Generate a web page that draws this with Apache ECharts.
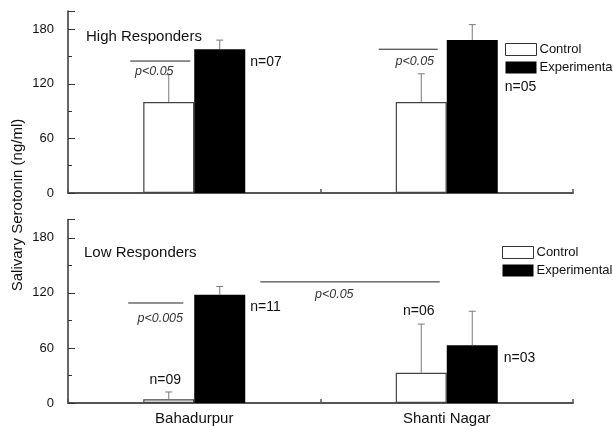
<!DOCTYPE html>
<html>
<head>
<meta charset="utf-8">
<script src="https://cdn.jsdelivr.net/npm/echarts@6/dist/echarts.min.js"></script>
<style>html,body{margin:0;padding:0;background:#fff}#c{width:613px;height:426px}</style>
</head>
<body>
<div id="c"></div>
<script>
// ---- data ----
const categories = ['Bahadurpur', 'Shanti Nagar'];
const highControl = [100, 100];
const highControlUpper = [130, 131];
const highExp = [158, 168];
const highExpUpper = [168, 185];
const lowControl = [4, 33];
const lowControlUpper = [12, 86];
const lowExp = [118, 63];
const lowExpUpper = [127, 100];
const yTickLabels = [0, 60, 120, 180];
const highN = ['n=07', 'n=05'];
const lowControlN = ['n=09', 'n=06'];
const lowExpN = ['n=11', 'n=03'];

const FONT = '"Liberation Sans", Arial, sans-serif';
const BW = 51;
const HALF = BW / 2;
const errColor = '#7a7a7a';
const axisColor = '#333';
const Y_MAX = 200;

function errSeries(gi, values, uppers, side) {
  return {
    type: 'custom', xAxisIndex: gi, yAxisIndex: gi, z: 5,
    data: values.map((v, i) => [i, uppers[i], v]),
    encode: { x: 0, y: 1 },
    silent: true,
    renderItem: function (params, api) {
      const i = api.value(0);
      const top = api.coord([i, api.value(1)]);
      const bot = api.coord([i, api.value(2)]);
      const x = top[0] + side * HALF;
      return {
        type: 'group', children: [
          { type: 'line', shape: { x1: x, y1: bot[1], x2: x, y2: top[1] }, style: { stroke: errColor, lineWidth: 1 } },
          { type: 'line', shape: { x1: x - 3.5, y1: top[1], x2: x + 3.5, y2: top[1] }, style: { stroke: errColor, lineWidth: 1 } }
        ]
      };
    }
  };
}

const annotTop = [
  { kind: 'line', c1: 0, d1: -64, c2: 0, d2: -4, y: 145 },
  { kind: 'text', c: 0, d: -40, y: 133, text: 'p<0.05', italic: true, align: 'center' },
  { kind: 'line', c1: 1, d1: -68, c2: 1, d2: -9, y: 158 },
  { kind: 'text', c: 1, d: -32, y: 144, text: 'p<0.05', italic: true, align: 'center' },
  { kind: 'text', c: 0, d: 56, y: 144, text: highN[0], align: 'left' },
  { kind: 'text', c: 1, d: 58, y: 116, text: highN[1], align: 'left' }
];
const annotLow = [
  { kind: 'line', c1: 0, d1: -66, c2: 0, d2: -11, y: 109 },
  { kind: 'text', c: 0, d: -34, y: 92, text: 'p<0.005', italic: true, align: 'center' },
  { kind: 'line', c1: 0, d1: 66, c2: 1, d2: -7, y: 132 },
  { kind: 'text', c: 0, d: 140, y: 118, text: 'p<0.05', italic: true, align: 'center' },
  { kind: 'text', c: 0, d: -29, y: 25, text: lowControlN[0], align: 'center' },
  { kind: 'text', c: 0, d: 56, y: 105, text: lowExpN[0], align: 'left' },
  { kind: 'text', c: 1, d: -28, y: 100, text: lowControlN[1], align: 'center' },
  { kind: 'text', c: 1, d: 57, y: 49, text: lowExpN[1], align: 'left' }
];

function annotSeries(gi, list) {
  return {
    type: 'custom', xAxisIndex: gi, yAxisIndex: gi, z: 6, silent: true,
    data: list.map((a, i) => [i, 0]),
    encode: { x: 0, y: 1 },
    renderItem: function (params, api) {
      const a = list[params.dataIndex];
      if (a.kind === 'line') {
        const p1 = api.coord([a.c1, a.y]);
        const p2 = api.coord([a.c2, a.y]);
        return { type: 'line', shape: { x1: p1[0] + a.d1, y1: p1[1], x2: p2[0] + a.d2, y2: p2[1] }, style: { stroke: '#222', lineWidth: 1 } };
      }
      const p = api.coord([a.c, a.y]);
      return {
        type: 'text', x: p[0] + a.d, y: p[1],
        style: {
          text: a.text, fill: a.italic ? '#333' : '#111',
          font: (a.italic ? 'italic 12.5px ' : '14px ') + FONT,
          textAlign: a.align, textVerticalAlign: 'middle'
        }
      };
    }
  };
}

function yAxis(gi) {
  return {
    type: 'value', gridIndex: gi, min: 0, max: Y_MAX, interval: 60, position: 'left',
    axisLine: { show: true, lineStyle: { color: axisColor, width: 1.5 } },
    axisTick: { show: true, inside: true, length: 7, lineStyle: { color: axisColor, width: 1 } },
    minorTick: { show: true, splitNumber: 2, length: 4, lineStyle: { color: axisColor, width: 1 } },
    splitLine: { show: false },
    minorSplitLine: { show: false },
    axisLabel: { showMaxLabel: false, margin: 14, fontSize: 13, color: '#111', fontFamily: FONT,
      formatter: v => (yTickLabels.indexOf(v) >= 0 ? String(v) : '') }
  };
}

function xAxis(gi, showLabel) {
  return {
    type: 'category', gridIndex: gi, data: categories,
    axisLine: { show: true, lineStyle: { color: '#555', width: 2 } },
    axisTick: { show: true, inside: true, length: 4, lineStyle: { color: '#555', width: 1.5 } },
    axisLabel: { show: showLabel, margin: 8, fontSize: 15, color: '#111', fontFamily: FONT },
    splitLine: { show: false }
  };
}

function bars(gi, ctrl, exp) {
  return [
    { name: 'Control', type: 'bar', xAxisIndex: gi, yAxisIndex: gi, data: ctrl, barWidth: BW, barGap: '0%',
      itemStyle: { color: '#fff', borderColor: '#444', borderWidth: 1.2 }, silent: true },
    { name: 'Experimental', type: 'bar', xAxisIndex: gi, yAxisIndex: gi, data: exp, barWidth: BW, barGap: '0%',
      itemStyle: { color: '#000', borderColor: '#000', borderWidth: 0 }, silent: true }
  ];
}

const legendBase = {
  orient: 'vertical', padding: 0, itemGap: 5, itemWidth: 31, itemHeight: 12,
  icon: 'rect', selectedMode: false,
  textStyle: { fontSize: 13, color: '#111', fontFamily: FONT, padding: [0, 0, 0, -2] },
  data: [
    { name: 'Control', itemStyle: { color: '#fff', borderColor: '#333', borderWidth: 1 } },
    { name: 'Experimental', itemStyle: { color: '#000' } }
  ]
};

const chart = echarts.init(document.getElementById('c'), null, { renderer: 'canvas' });
chart.setOption({
  animation: false,
  backgroundColor: '#fff',
  grid: [
    { left: 68, right: 40, top: 11, height: 182 },
    { left: 68, right: 40, top: 219.5, height: 184 }
  ],
  xAxis: [xAxis(0, false), xAxis(1, true)],
  yAxis: [yAxis(0), yAxis(1)],
  legend: [
    Object.assign({}, legendBase, { left: 505, top: 43 }),
    Object.assign({}, legendBase, { left: 502, top: 246 })
  ],
  graphic: [
    { type: 'text', x: 18, y: 205, rotation: Math.PI / 2,
      style: { text: 'Salivary Serotonin (ng/ml)', font: '15px ' + FONT, fill: '#111', textAlign: 'center', textVerticalAlign: 'middle' } },
    { type: 'text', x: 86, y: 37,
      style: { text: 'High Responders', font: '15px ' + FONT, fill: '#111', textAlign: 'left', textVerticalAlign: 'middle' } },
    { type: 'text', x: 84, y: 253,
      style: { text: 'Low Responders', font: '15px ' + FONT, fill: '#111', textAlign: 'left', textVerticalAlign: 'middle' } }
  ],
  series: [
    ...bars(0, highControl, highExp),
    errSeries(0, highControl, highControlUpper, -1),
    errSeries(0, highExp, highExpUpper, 1),
    annotSeries(0, annotTop),
    ...bars(1, lowControl, lowExp),
    errSeries(1, lowControl, lowControlUpper, -1),
    errSeries(1, lowExp, lowExpUpper, 1),
    annotSeries(1, annotLow)
  ]
});
</script>
</body>
</html>
